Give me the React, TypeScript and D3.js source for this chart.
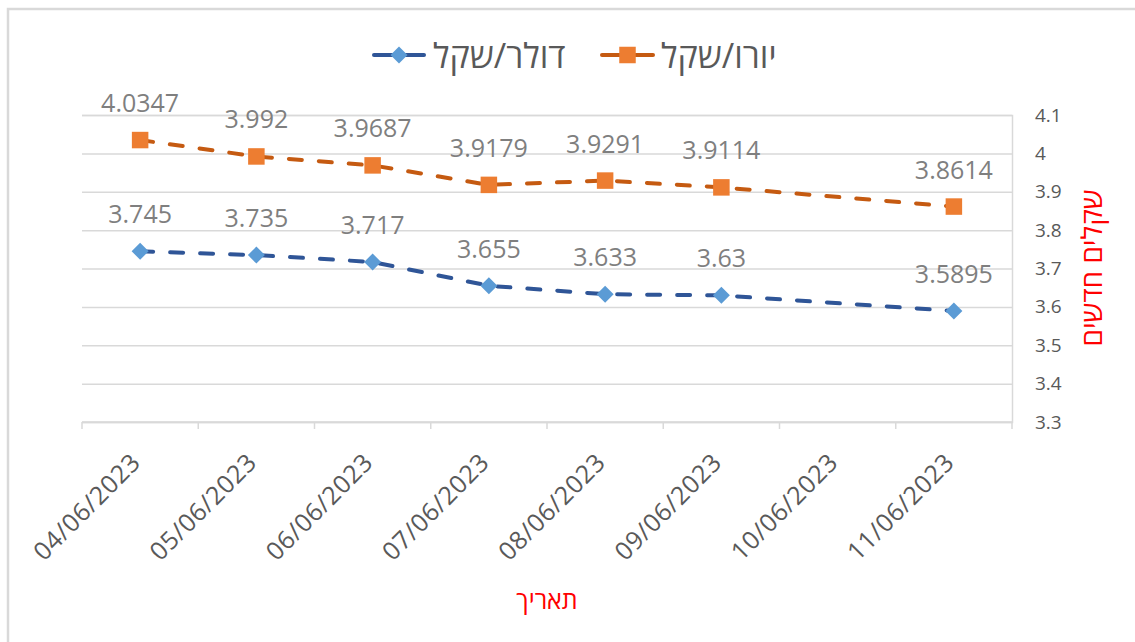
import React, { useRef, useEffect } from 'react'
import { select, scaleBand, scaleLinear, line, axisRight } from 'd3'

const dates = ['04/06/2023', '05/06/2023', '06/06/2023', '07/06/2023', '08/06/2023', '09/06/2023', '10/06/2023', '11/06/2023']
const usdIls = [3.745, 3.735, 3.717, 3.655, 3.633, 3.63, null, 3.5895]
const eurIls = [4.0347, 3.992, 3.9687, 3.9179, 3.9291, 3.9114, null, 3.8614]
const yTicks = [3.3, 3.4, 3.5, 3.6, 3.7, 3.8, 3.9, 4, 4.1]
const seriesNames = ['דולר/שקל', 'יורו/שקל']
const xTitle = 'תאריך'
const yTitle = 'שקלים חדשים'

const W = 1135
const H = 642
const font = '"Open Sans", "Liberation Sans", sans-serif'

export default function App() {
  const canvas = useRef(null)

  useEffect(() => {
    const svg = select(canvas.current)
    svg.selectAll('*').remove()

    const left = 82, right = 1012, top = 115, bottom = 422

    const x = scaleBand().domain(dates).range([left, right])
    const y = scaleLinear().domain([3.3, 4.1]).range([bottom, top])

    // chart border
    svg.append('rect').attr('x', 8).attr('y', 9).attr('width', W).attr('height', H)
      .attr('fill', 'none').attr('stroke', '#d9d9d9').attr('stroke-width', 2.5)

    // gridlines + right axis labels
    const yAxis = svg.append('g').attr('transform', `translate(${right},0)`)
      .call(axisRight(y).tickValues(yTicks).tickSize(-(right - left)).tickPadding(23).tickFormat(d => String(d)))
    yAxis.select('.domain').attr('stroke', '#d9d9d9').attr('stroke-width', 1.5)
    yAxis.selectAll('line').attr('stroke', '#d9d9d9').attr('stroke-width', 1.5)
    yAxis.selectAll('text').attr('fill', '#595959').attr('font-size', 19).attr('font-family', font)

    // x axis line + ticks at band edges
    const xg = svg.append('g')
    xg.append('line').attr('x1', left).attr('x2', right).attr('y1', bottom).attr('y2', bottom)
      .attr('stroke', '#d9d9d9').attr('stroke-width', 1.5)
    const edges = dates.map(d => x(d)).concat([right])
    xg.selectAll('.tk').data(edges).enter().append('line')
      .attr('x1', d => d).attr('x2', d => d).attr('y1', bottom).attr('y2', bottom + 7)
      .attr('stroke', '#d9d9d9').attr('stroke-width', 1.5)
    xg.selectAll('.lbl').data(dates).enter().append('text')
      .attr('transform', d => `translate(${x(d) + x.bandwidth() / 2 + 2},${bottom + 42}) rotate(-45)`)
      .attr('text-anchor', 'end').attr('fill', '#595959').attr('font-size', 25).attr('font-family', font)
      .attr('letter-spacing', 0.6)
      .text(d => d)

    const cx = d => x(d) + x.bandwidth() / 2

    const series = [
      { name: seriesNames[0], values: usdIls, lineColor: '#2f5597', markColor: '#5b9bd5', shape: 'diamond' },
      { name: seriesNames[1], values: eurIls, lineColor: '#c55a11', markColor: '#ed7d31', shape: 'square' },
    ]

    const marker = (g, shape, color, px, py) => {
      if (shape === 'diamond') {
        const r = 8.5
        g.append('path').attr('d', `M${px},${py - r}L${px + r},${py}L${px},${py + r}L${px - r},${py}Z`).attr('fill', color)
      } else {
        const s = 16.5
        g.append('rect').attr('x', px - s / 2).attr('y', py - s / 2).attr('width', s).attr('height', s).attr('fill', color)
      }
    }

    series.forEach(s => {
      const pts = dates.map((d, i) => ({ d, v: s.values[i] })).filter(p => p.v != null)
      const ln = line().x(p => cx(p.d)).y(p => y(p.v))
      const g = svg.append('g')
      g.append('path').datum(pts).attr('d', ln).attr('fill', 'none').attr('stroke', s.lineColor)
        .attr('stroke-width', 4).attr('stroke-dasharray', '13 17').attr('stroke-linecap', 'round')
      pts.forEach(p => marker(g, s.shape, s.markColor, cx(p.d), y(p.v)))
      g.selectAll('.dl').data(pts).enter().append('text')
        .attr('x', p => cx(p.d)).attr('y', p => y(p.v) - 28)
        .attr('text-anchor', 'middle').attr('fill', '#7f7f7f').attr('font-size', 25).attr('font-family', font)
        .text(p => String(p.v))
    })

    // legend
    const legendPos = [{ x0: 374, x1: 424, tx: 433 }, { x0: 602, x1: 653, tx: 661 }]
    series.forEach((s, i) => {
      const lp = legendPos[i]
      const g = svg.append('g')
      g.append('line').attr('x1', lp.x0).attr('x2', lp.x1).attr('y1', 55).attr('y2', 55)
        .attr('stroke', s.lineColor).attr('stroke-width', 4).attr('stroke-linecap', 'round')
      marker(g, s.shape, s.markColor, (lp.x0 + lp.x1) / 2, 55)
      g.append('text').attr('x', lp.tx).attr('y', 56).attr('dy', '0.35em')
        .attr('fill', '#595959').attr('font-size', 34).attr('font-family', font)
        .text(s.name)
    })

    // axis titles
    svg.append('text').attr('x', 547).attr('y', 609).attr('text-anchor', 'middle')
      .attr('fill', '#ff0000').attr('font-size', 25).attr('font-family', font).text(xTitle)
    svg.append('text').attr('transform', `translate(1102,268) rotate(-90)`).attr('text-anchor', 'middle')
      .attr('fill', '#ff0000').attr('font-size', 28).attr('font-family', font).text(yTitle)
  })

  return (
    <svg ref={canvas} width={W} height={H} style={{ position: 'absolute', left: 0, top: 0, background: '#fff' }} />
  )
}
